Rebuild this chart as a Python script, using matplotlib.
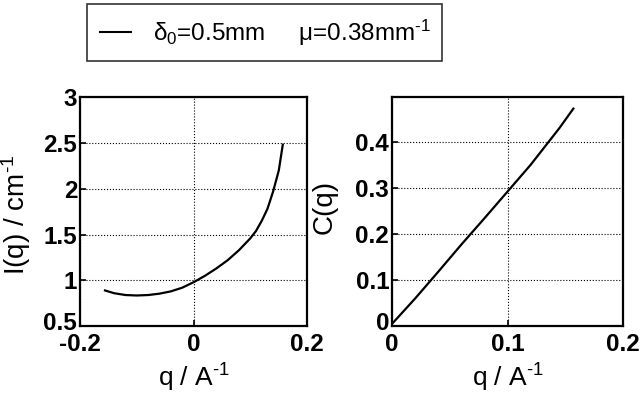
import numpy as np
import matplotlib.pyplot as plt
import matplotlib.transforms as mtransforms
from matplotlib.lines import Line2D

plt.rcParams['font.family'] = ['Liberation Sans', 'DejaVu Sans']
plt.rcParams['mathtext.fontset'] = 'custom'
plt.rcParams['mathtext.rm'] = 'Liberation Sans'
plt.rcParams['mathtext.it'] = 'Liberation Sans'
plt.rcParams['mathtext.bf'] = 'Liberation Sans:bold'

# I(q) curve
q_i = [-0.156, -0.14, -0.12, -0.10, -0.08, -0.06, -0.04, -0.02, 0.0, 0.02, 0.04, 0.06, 0.08, 0.10, 0.11, 0.12, 0.13, 0.14, 0.15, 0.157]
I_q = [0.89, 0.86, 0.84, 0.835, 0.84, 0.855, 0.88, 0.92, 0.98, 1.05, 1.13, 1.22, 1.33, 1.46, 1.54, 1.65, 1.78, 1.97, 2.2, 2.48]

# C(q) curve
q_c = [0.0, 0.02, 0.04, 0.06, 0.08, 0.10, 0.12, 0.135, 0.145, 0.157]
C_q = [0.005, 0.06, 0.118, 0.177, 0.234, 0.292, 0.35, 0.398, 0.43, 0.472]

fig = plt.figure(figsize=(6.4, 3.93), dpi=100)

# axes boxes: left 80-307 px, right 392-623 px, y 97-326 px
ax1 = fig.add_axes([0.125, 0.170, 0.355, 0.583])
ax2 = fig.add_axes([0.6125, 0.170, 0.361, 0.583])

ax1.plot(q_i, I_q, color='k', linewidth=1.6)
ax1.set_xlim(-0.2, 0.2)
ax1.set_ylim(0.5, 3)
ax1.set_xticks([-0.2, 0, 0.2])
ax1.set_xticklabels(['-0.2', '0', '0.2'])
ax1.set_yticks([0.5, 1, 1.5, 2, 2.5, 3])
ax1.set_yticklabels(['0.5', '1', '1.5', '2', '2.5', '3'])
ax1.set_xlabel(r'q / A$^{\text{-}1}$', fontsize=19)
ax1.set_ylabel(r'I(q) / cm$^{\text{-}1}$', fontsize=20)

ax2.plot(q_c, C_q, color='k', linewidth=1.6)
ax2.set_xlim(0, 0.2)
ax2.set_ylim(0, 0.497)
ax2.set_xticks([0, 0.1, 0.2])
ax2.set_xticklabels(['0', '0.1', '0.2'])
ax2.set_yticks([0, 0.1, 0.2, 0.3, 0.4])
ax2.set_yticklabels(['0', '0.1', '0.2', '0.3', '0.4'])
ax2.set_xlabel(r'q / A$^{\text{-}1}$', fontsize=19)
ax2.set_ylabel('C(q)', fontsize=20)

up = mtransforms.ScaledTranslation(0, 4 / 72, fig.dpi_scale_trans)
for ax in (ax1, ax2):
    ax.grid(True, linestyle=':', color='k', linewidth=0.8)
    ax.tick_params(direction='in', labelsize=17.5, width=1.2, length=4)
    ax.tick_params(axis='x', pad=5)
    ax.tick_params(axis='y', pad=2)
    for lab in ax.get_xticklabels() + ax.get_yticklabels():
        lab.set_fontweight('bold')
    for s in ax.spines.values():
        s.set_linewidth(1.6)
    ax.xaxis.labelpad = 4
    # bottom y label sits a little higher, like the reference
    lab0 = ax.get_yticklabels()[0]
    lab0.set_transform(lab0.get_transform() + up)

ax1.yaxis.set_label_coords(-0.205, 0.485)
ax2.yaxis.set_label_coords(-0.235, 0.52)

h = [Line2D([], [], color='k', linewidth=1.5)]
leg = fig.legend(h, [r'δ$_0$=0.5mm     μ=0.38mm$^{\text{-}1}$'], loc='upper left',
                 bbox_to_anchor=(87 / 640, 335 / 393, 355 / 640, 54 / 393),
                 mode='expand', borderaxespad=0, fontsize=17.5,
                 frameon=True, fancybox=False, edgecolor='k', handlelength=1.25,
                 handletextpad=0.9, borderpad=0.55)
leg.get_frame().set_linewidth(1.2)

fig.savefig('out.png', dpi=100)
